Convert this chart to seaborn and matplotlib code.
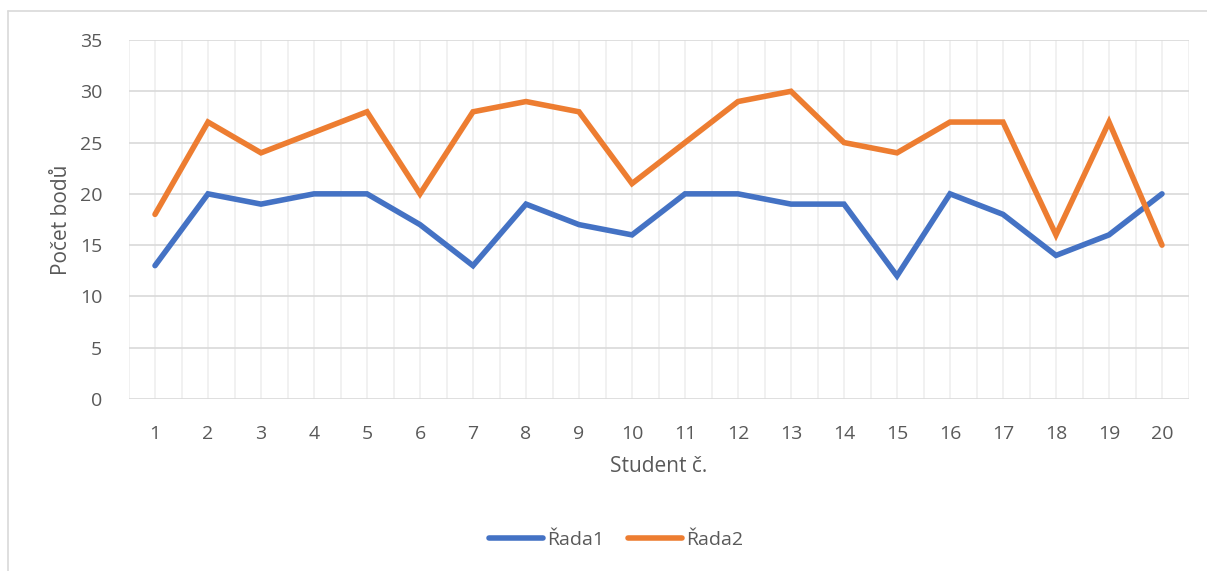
import matplotlib
matplotlib.use("Agg")
import matplotlib.pyplot as plt
import pandas as pd
import seaborn as sns
from matplotlib.lines import Line2D

students = list(range(1, 21))
rada1 = [13, 20, 19, 20, 20, 17, 13, 19, 17, 16, 20, 20, 19, 19, 12, 20, 18, 14, 16, 20]
rada2 = [18, 27, 24, 26, 28, 20, 28, 29, 28, 21, 25, 29, 30, 25, 24, 27, 27, 16, 27, 15]
series_names = ["Řada1", "Řada2"]
yticks = [0, 5, 10, 15, 20, 25, 30, 35]

df = pd.DataFrame({
    "Student": students * 2,
    "Body": rada1 + rada2,
    "Řada": [series_names[0]] * len(rada1) + [series_names[1]] * len(rada2),
})

sns.set_theme(style="white")
plt.rcParams["font.family"] = ["Open Sans", "DejaVu Sans"]
txt = "#595959"

fig = plt.figure(figsize=(12.07, 5.71), dpi=100)
ax = fig.add_axes([128.5 / 1207, 1 - 399 / 571, 1060 / 1207, 359 / 571])

# grid: light vertical lines at categories and boundaries, darker horizontal ones
for x in [i / 2 for i in range(1, 42)]:
    ax.axvline(x, color="#ededed", lw=1.1, zorder=0)
for y in yticks:
    ax.axhline(y, color="#d9d9d9", lw=1.2, zorder=0.5)

sns.lineplot(data=df, x="Student", y="Body", hue="Řada",
             palette=["#4472C4", "#ED7D31"], linewidth=4.0, ax=ax,
             legend=False, zorder=3)
for ln in ax.get_lines():
    ln.set_solid_capstyle("round")
    ln.set_solid_joinstyle("miter")

ax.set_xlim(0.5, 20.5)
ax.set_ylim(0, 35)
ax.set_xticks(students)
ax.set_xticklabels([str(s) for s in students])
ax.set_yticks(yticks)
ax.tick_params(axis="both", length=0, labelsize=14, colors=txt)
ax.tick_params(axis="x", pad=19)
ax.tick_params(axis="y", pad=19)
for s in ax.spines.values():
    s.set_visible(False)

ax.set_xlabel("Student č.", fontsize=15, color=txt)
ax.set_ylabel("Počet bodů", fontsize=15, color=txt)
ax.xaxis.set_label_coords(0.5, (399 - 456) / 359)
ax.yaxis.set_label_coords((72 - 128.5) / 1060, 0.5)

handles = [Line2D([], [], color="#4472C4", lw=4.0, solid_capstyle="round"),
           Line2D([], [], color="#ED7D31", lw=4.0, solid_capstyle="round")]
leg = fig.legend(handles, series_names, loc="center", ncol=2,
                 bbox_to_anchor=(616 / 1207, 1 - 540 / 571), frameon=False,
                 fontsize=14, handlelength=2.8, handletextpad=0.2,
                 columnspacing=1.2)
for t in leg.get_texts():
    t.set_color(txt)

# chart area border
fig.add_artist(Line2D([7.5 / 1207, 1], [1 - 11 / 571, 1 - 11 / 571],
                      transform=fig.transFigure, color="#d9d9d9", lw=1.2))
fig.add_artist(Line2D([7.5 / 1207, 7.5 / 1207], [0, 1 - 11 / 571],
                      transform=fig.transFigure, color="#d9d9d9", lw=1.2))

fig.savefig("out.png", dpi=100, facecolor="white")
